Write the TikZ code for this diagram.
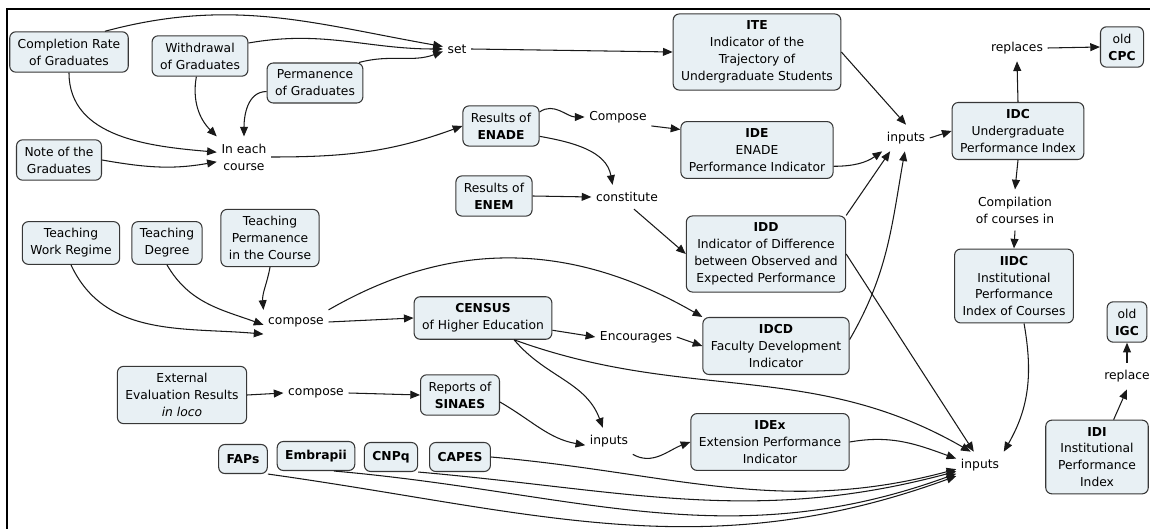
\documentclass[tikz,border=0pt]{standalone}
\usepackage{fontspec}
\setmainfont{DejaVu Sans}
\usetikzlibrary{arrows.meta}
\definecolor{cmapfill}{RGB}{232,240,244}
\definecolor{cmapline}{RGB}{55,55,55}

\begin{document}
\begin{tikzpicture}[x=0.02cm,y=0.02cm,
  concept/.style={draw=cmapline,fill=cmapfill,rounded corners=3.5pt,align=center,inner xsep=0.16cm,inner ysep=0.14cm,line width=0.6pt,font=\fontsize{7}{9.6}\selectfont},
  fund/.style={concept,minimum height=0.58cm},
  phrase/.style={align=center,inner xsep=2.5pt,inner ysep=4pt,font=\fontsize{7}{9.6}\selectfont},
  link/.style={-{Triangle[length=5.5pt,width=4.5pt]},line width=0.6pt,draw=black!90}]
\useasboundingbox (0,0) rectangle (1150,528);
\draw[line width=1.1pt] (7,-20) -- (7,519) -- (1170,519);

\node[concept] (comp) at (69,476) {Completion Rate\\of Graduates};
\node[concept] (withd) at (200,472) {Withdrawal\\of Graduates};
\node[concept] (perm) at (315,445) {Permanence\\of Graduates};
\node[concept] (note) at (59,368) {Note of the\\Graduates};
\node[phrase] (ineach) at (244,371) {In each\\course};
\node[phrase] (set) at (457,479) {set};
\node[concept] (ite) at (757,476) {\textbf{ITE}\\Indicator of the\\Trajectory of\\Undergraduate Students};
\node[concept] (enade) at (501,402) {Results of\\\textbf{ENADE}};
\node[phrase] (compa) at (618,411) {Compose};
\node[concept] (ide) at (757,378) {\textbf{IDE}\\ENADE\\Performance Indicator};
\node[concept] (enem) at (494,332) {Results of\\\textbf{ENEM}};
\node[phrase] (const) at (627,331) {constitute};
\node[concept] (idd) at (766,274) {\textbf{IDD}\\Indicator of Difference\\between Observed and\\Expected Performance};
\node[phrase] (inpa) at (906,390) {inputs};
\node[concept] (idc) at (1018,397) {\textbf{IDC}\\Undergraduate\\Performance Index};
\node[phrase] (repa) at (1017,480) {replaces};
\node[concept] (cpc) at (1122,481) {old\\\textbf{CPC}};
\node[phrase] (compil) at (1015,318) {Compilation\\of courses in};
\node[concept] (iidc) at (1014,242) {\textbf{IIDC}\\Institutional\\Performance\\Index of Courses};
\node[concept] (igc) at (1127,206) {old\\\textbf{IGC}};
\node[phrase] (repb) at (1127,152) {replace};
\node[concept,minimum width=2.05cm] (idi) at (1097,71) {\textbf{IDI}\\Institutional\\Performance\\Index};
\node[phrase] (inpc) at (980,63) {inputs};
\node[concept] (twr) at (71,285) {Teaching\\Work Regime};
\node[concept] (tdeg) at (167,285) {Teaching\\Degree};
\node[concept] (tperm) at (270,290) {Teaching\\Permanence\\in the Course};
\node[phrase] (compb) at (296,206) {compose};
\node[concept] (census) at (483,210) {\textbf{CENSUS}\\of Higher Education};
\node[phrase] (encour) at (636,191) {Encourages};
\node[concept] (idcd) at (776,182) {\textbf{IDCD}\\Faculty Development\\Indicator};
\node[concept] (ext) at (182,133) {External\\Evaluation Results\\\textit{in loco}};
\node[phrase] (compc) at (316,135) {compose};
\node[concept] (sinaes) at (460,133) {Reports of\\\textbf{SINAES}};
\node[phrase] (inpb) at (609,87) {inputs};
\node[concept] (idex) at (770,86) {\textbf{IDEx}\\Extension Performance\\Indicator};
\node[fund] (faps) at (243,69) {\textbf{FAPs}};
\node[fund] (embr) at (316,72) {\textbf{Embrapii}};
\node[fund] (cnpq) at (391,71) {\textbf{CNPq}};
\node[fund] (capes) at (460,71) {\textbf{CAPES}};

\draw[link] (comp.30) to[out=15,in=170] (set.170);
\draw[link] (withd.15) to[out=10,in=180] (set.west);
\draw[link] (perm.25) to[out=15,in=200] (set.190);
\draw[link] (set.east) -- (ite.west);
\draw[link] (comp.south) to[out=-90,in=175] (ineach.170);
\draw[link] (withd.260) to[out=-100,in=135] (ineach.north west);
\draw[link] (perm.190) to[out=180,in=90] (ineach.north);
\draw[link] (note.east) to[out=-10,in=190] (ineach.190);
\draw[link] (ineach.east) to[out=0,in=200] (enade.west);
\draw[link] (enade.20) to[out=35,in=180] (compa.west);
\draw[link] (compa.-15) -- (ide.165);
\draw[link] (enade.-15) to[out=-10,in=100] (const.140);
\draw[link] (enem.east) -- (const.west);
\draw[link] (const.-60) -- (idd.west);
\draw[link] (ite.east) -- (inpa.north);
\draw[link] (ide.-12) to[out=0,in=215] (inpa.south west);
\draw[link] (idd.north east) -- (inpa.220);
\draw[link] (idcd.5) to[out=60,in=-100] (inpa.-95);
\draw[link] (inpa.east) -- (idc.west);
\draw[link] (idc.north) -- (repa.south);
\draw[link] (repa.east) -- (cpc.west);
\draw[link] (idc.south) -- (compil.north);
\draw[link] (compil.south) -- (iidc.north);
\draw[link] (iidc.-75) to[out=-80,in=60] (inpc.north east);
\draw[link] (idd.east) -- (inpc.115);
\draw[link] (census.-35) to[out=-20,in=150] (inpc.125);
\draw[link] (idex.east) to[out=10,in=160] (inpc.165);
\draw[link] (capes.east) to[out=-5,in=195] (inpc.190);
\draw[link] (cnpq.south east) to[out=-5,in=195] (inpc.195);
\draw[link] (embr.-40) to[out=-5,in=200] (inpc.200);
\draw[link] (faps.south east) to[out=-8,in=200] (inpc.205);
\draw[link] (twr.south) to[out=-65,in=175] (compb.south west);
\draw[link] (tdeg.south) to[out=-60,in=160] (compb.185);
\draw[link] (tperm.south) to[out=-100,in=95] (compb.north west);
\draw[link] (compb.east) -- (census.west);
\draw[link] (compb.north east) to[out=30,in=150] (idcd.north west);
\draw[link] (census.-10) -- (encour.west);
\draw[link] (encour.east) -- (idcd.west);
\draw[link] (census.-35) to[out=-50,in=110] (inpb.115);
\draw[link] (sinaes.-10) to[out=-30,in=170] (inpb.190);
\draw[link] (inpb.south east) to[out=-30,in=200] (idex.west);
\draw[link] (ext.east) -- (compc.west);
\draw[link] (compc.east) -- (sinaes.west);
\draw[link] (idi.66) -- (repb.south);
\draw[link] (repb.north) -- (igc.south);
\end{tikzpicture}
\end{document}
